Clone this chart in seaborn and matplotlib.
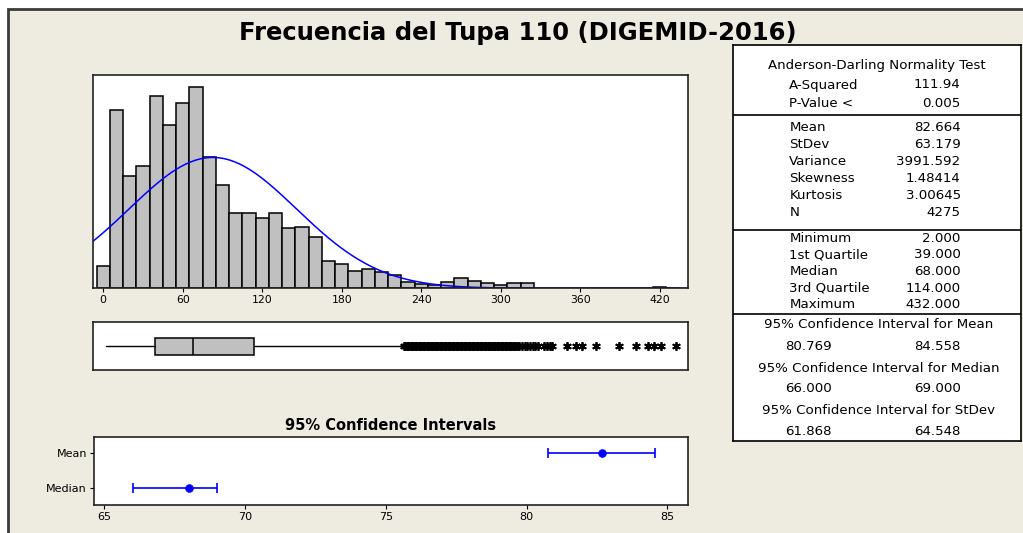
import numpy as np
import pandas as pd
import matplotlib
matplotlib.use("Agg")
import matplotlib.pyplot as plt
from matplotlib.patches import Rectangle
import seaborn as sns

# histogram data (bin width 10, centers)
bin_centers = [0, 10, 20, 30, 40, 50, 60, 70, 80, 90, 100, 110, 120, 130, 140, 150,
               160, 170, 180, 190, 200, 210, 220, 230, 240, 250, 260, 270, 280, 290,
               300, 310, 320, 330, 340, 350, 360, 370, 380, 390, 400, 410, 420, 430]
counts = [45, 367, 231, 253, 396, 336, 382, 415, 270, 213, 155, 155, 144, 155, 124, 127,
          105, 56, 50, 36, 39, 34, 28, 13, 8, 7, 14, 22, 16, 10,
          7, 10, 10, 1, 1, 1, 1, 1, 0, 1, 1, 1, 3, 1]

# summary statistics
MEAN = 82.664
STDEV = 63.179
N = 4275
MINIMUM = 2.0
Q1 = 39.0
MEDIAN = 68.0
Q3 = 114.0
MAXIMUM = 432.0
WHISKER_HI = 226
outlier_band = (227, 312)   # solid run of asterisks
outliers_sparse = [314, 316, 318, 320, 322, 324, 326, 328, 333, 335, 337, 339,
                   350, 357, 361, 372, 389, 402, 411, 416, 421, 432]

ci_labels = ["Mean", "Median"]
ci_est = [82.664, 68.0]
ci_low = [80.769, 66.0]
ci_high = [84.558, 69.0]

table_ad = [("A-Squared", "111.94"), ("P-Value <", "0.005")]
table_moments = [("Mean", "82.664"), ("StDev", "63.179"), ("Variance", "3991.592"),
                 ("Skewness", "1.48414"), ("Kurtosis", "3.00645"), ("N", "4275")]
table_quant = [("Minimum", "2.000"), ("1st Quartile", "39.000"), ("Median", "68.000"),
               ("3rd Quartile", "114.000"), ("Maximum", "432.000")]
table_ci = [("95% Confidence Interval for Mean", "80.769", "84.558"),
            ("95% Confidence Interval for Median", "66.000", "69.000"),
            ("95% Confidence Interval for StDev", "61.868", "64.548")]

sns.set_style("white")
plt.rcParams['font.family'] = ['DejaVu Sans']
plt.rcParams['text.color'] = 'black'
plt.rcParams['xtick.color'] = 'black'
plt.rcParams['ytick.color'] = 'black'

W, H = 1023, 533
BG = '#EEEBE1'
FRAME = '#222222'

fig = plt.figure(figsize=(W / 100, H / 100), dpi=100, facecolor='white')
fig.patches.append(Rectangle((7.5 / W, -0.05), 1.1, 1 - 9.5 / H + 0.05, transform=fig.transFigure,
                             facecolor=BG, edgecolor='#3a3a3a', linewidth=2, zorder=-10))


def rect(x0, y0, x1, y1):
    return [x0 / W, 1 - y1 / H, (x1 - x0) / W, (y1 - y0) / H]


fig.text(518 / W, 1 - 33 / H, "Frecuencia del Tupa 110 (DIGEMID-2016)",
         ha='center', va='center', fontsize=17.5, fontweight='bold')

XLIM = (-7.5, 441.3)

# histogram
ax = fig.add_axes(rect(93.3, 75, 688, 288.3))
ax.set_facecolor('white')
hist_df = pd.DataFrame({"center": bin_centers, "count": counts})
sns.histplot(data=hist_df, x="center", weights="count", binwidth=10, binrange=(-5, 435),
             ax=ax, color='#C0C0C0', edgecolor='black', linewidth=1.1, alpha=1)
xs = np.linspace(XLIM[0], XLIM[1], 400)
ys = N * 10 * np.exp(-0.5 * ((xs - MEAN) / STDEV) ** 2) / (STDEV * np.sqrt(2 * np.pi))
sns.lineplot(x=xs, y=ys, ax=ax, color='#0000FF', linewidth=1.1)
ax.set_xlim(*XLIM)
ax.set_ylim(0, 440)
ax.set_xticks(range(0, 421, 60))
ax.set_yticks([])
ax.set_xlabel("")
ax.set_ylabel("")
ax.tick_params(axis='x', direction='out', length=3, width=0.8, labelsize=7.8, pad=2, bottom=True)

# boxplot
axb = fig.add_axes(rect(93.3, 322.3, 688, 370))
axb.set_facecolor('white')
fliers = list(range(outlier_band[0], outlier_band[1] + 1)) + outliers_sparse
stats = [dict(med=MEDIAN, q1=Q1, q3=Q3, whislo=MINIMUM, whishi=WHISKER_HI, fliers=fliers)]
axb.bxp(stats, positions=[0], widths=0.36, vert=False, showcaps=False, patch_artist=True,
        boxprops=dict(facecolor='#C0C0C0', edgecolor='black', linewidth=1.1),
        medianprops=dict(color='black', linewidth=1.1),
        whiskerprops=dict(color='black', linewidth=1.0),
        flierprops=dict(marker=(6, 2, 0), markersize=6.2, markeredgecolor='black',
                        markerfacecolor='black', markeredgewidth=1.3, linestyle='none'))
axb.set_xlim(*XLIM)
axb.set_ylim(-0.5, 0.5)
axb.set_xticks([])
axb.set_yticks([])

# confidence intervals
axc = fig.add_axes(rect(94, 437.3, 688, 505))
axc.set_facecolor('white')
ypos = [0, 1]
err = [np.array(ci_est) - np.array(ci_low), np.array(ci_high) - np.array(ci_est)]
axc.errorbar(ci_est, ypos, xerr=err, fmt='none', ecolor='#0000FF', elinewidth=1.2,
             capsize=3.4, capthick=1.2)
sns.scatterplot(x=ci_est, y=ypos, ax=axc, color='#0000FF', s=32, edgecolor='#0000FF', zorder=3)
axc.set_xlim(64.63, 85.73)
axc.set_ylim(1.477, -0.457)
axc.set_xticks([65, 70, 75, 80, 85])
axc.set_yticks(ypos)
axc.set_yticklabels(ci_labels)
axc.tick_params(axis='both', direction='out', length=3, width=0.8, labelsize=8, pad=2,
                bottom=True, left=True)
axc.set_title("95% Confidence Intervals", fontsize=10.5, fontweight='bold', pad=5)

for a in (ax, axb, axc):
    for s in a.spines.values():
        s.set_color(FRAME)
        s.set_linewidth(1.2)

# stats table
axt = fig.add_axes(rect(732.7, 45, 1021, 441))
axt.set_facecolor('white')
axt.set_xlim(0, 288.3)
axt.set_ylim(396, 0)
axt.set_xticks([])
axt.set_yticks([])
for s in axt.spines.values():
    s.set_color('black')
    s.set_linewidth(1.2)
for yl in (70, 185, 269):
    axt.axhline(yl, color='black', linewidth=1.2)

fs = 9.6
LX, RX = 56.6, 228
axt.text(144, 20, "Anderson-Darling Normality Test", ha='center', va='center', fontsize=fs)
rows = [(table_ad, [40, 58.3]),
        (table_moments, [82.7, 100, 116.7, 133.3, 150.7, 167.3]),
        (table_quant, [193.3, 210, 226.7, 243.3, 260])]
for data, ys_ in rows:
    for (lab, val), yy in zip(data, ys_):
        axt.text(LX, yy, lab, ha='left', va='center', fontsize=fs)
        axt.text(RX, yy, val, ha='right', va='center', fontsize=fs)
ci_rows = [(280, 301.7), (323.3, 343.3), (365, 386.7)]
for (head, lo, hi), (yh, yv) in zip(table_ci, ci_rows):
    axt.text(146, yh, head, ha='center', va='center', fontsize=fs)
    axt.text(52.3, yv, lo, ha='left', va='center', fontsize=fs)
    axt.text(RX, yv, hi, ha='right', va='center', fontsize=fs)

fig.savefig("out.png", dpi=100, facecolor=fig.get_facecolor())
